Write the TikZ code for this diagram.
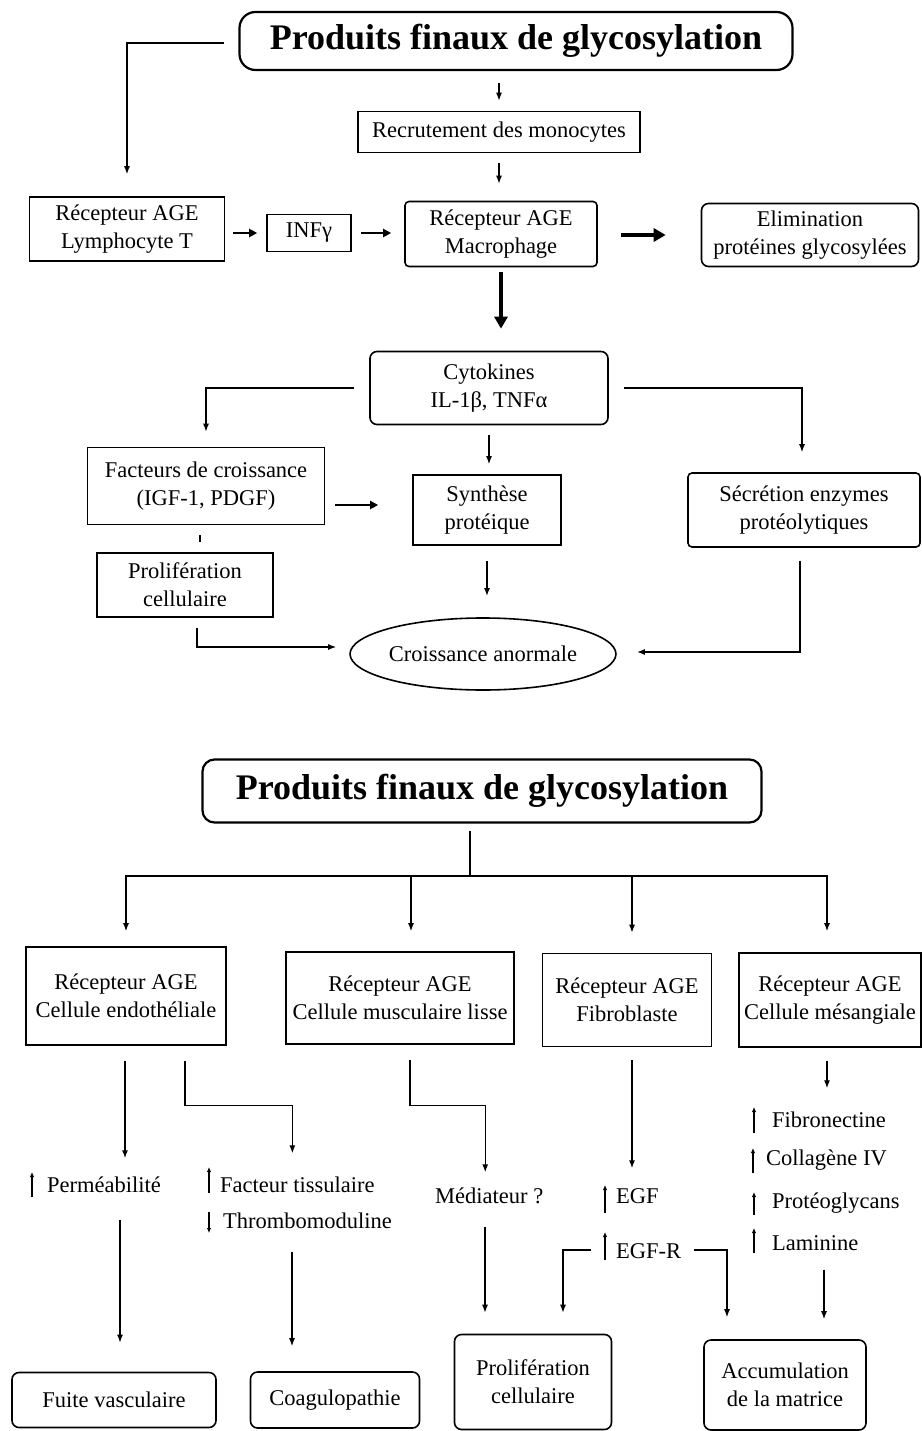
\documentclass[tikz,border=0pt]{standalone}
\usepackage{fontspec}
\setmainfont{Liberation Serif}
\usetikzlibrary{arrows.meta,shapes.geometric,calc}
\begin{document}
\begin{tikzpicture}[x=1pt,y=-1pt,
  box/.style={draw, line width=1.6pt, align=center, inner sep=0pt, font=\fontsize{22.5}{28}\selectfont},
  rbox/.style={box, rounded corners=7pt},
  titlebox/.style={draw, line width=2.2pt, rounded corners=16pt, inner sep=0pt, font=\fontsize{36}{40}\selectfont\bfseries},
  lbl/.style={anchor=west, inner sep=0pt, text height=16pt, text depth=5pt, font=\fontsize{22.5}{28}\selectfont},
  arr/.style={line width=1.3pt, -{Latex[length=8pt,width=6pt]}},
  conn/.style={line width=1.3pt},
  bigarr/.style={line width=4pt, -{Triangle[length=12pt,width=13pt]}},
  midarr/.style={line width=2.4pt, -{Triangle[length=8pt,width=8pt]}},
  mk/.style={line width=1.2pt, -{Latex[length=5pt,width=4.5pt]}}
]
\useasboundingbox (0,0) rectangle (921,1431);

% ---------------- top diagram ----------------
\node[titlebox, minimum width=553pt, minimum height=58pt] (t1) at (516,41) {Produits finaux de glycosylation};
\node[box, minimum width=282pt, minimum height=41pt] (rec) at (499,132) {Recrutement des monocytes};
\node[box, minimum width=195pt, minimum height=64pt] (lym) at (127,229) {Récepteur AGE\\Lymphocyte T};
\node[box, minimum width=84pt, minimum height=37pt] (inf) at (309,233) {INFγ};
\node[box, rounded corners=4pt, minimum width=192pt, minimum height=65pt] (mac) at (501,234) {Récepteur AGE\\Macrophage};
\node[rbox, minimum width=217pt, minimum height=63pt] (eli) at (810,235) {Elimination\\protéines glycosylées};
\node[rbox, minimum width=238pt, minimum height=73pt] (cyt) at (489,388) {Cytokines\\IL-1β, TNFα};
\node[box, minimum width=237pt, minimum height=77pt] (fac) at (206,486) {Facteurs de croissance\\(IGF-1, PDGF)};
\node[box, minimum width=148pt, minimum height=70pt] (syn) at (487,510) {Synthèse\\protéique};
\node[box, rounded corners=4pt, minimum width=232pt, minimum height=74pt] (sec) at (804,510) {Sécrétion enzymes\\protéolytiques};
\node[box, minimum width=176pt, minimum height=64pt] (pro) at (185,585) {Prolifération\\cellulaire};
\node[box, ellipse, minimum width=263pt, minimum height=72pt] (cro) at (483,654) {Croissance anormale};

\draw[arr, shorten <=14pt, shorten >=22pt] ([yshift=-2pt]t1.west) -| (lym.north);
\draw[arr, shorten <=12pt, shorten >=10pt] (rec.north |- t1.south) -- (rec.north);
\draw[arr, shorten <=10pt, shorten >=17pt] (rec.south) -- (rec.south |- mac.north);
\draw[midarr, line width=2pt, shorten <=8pt, shorten >=9pt] (lym.east |- inf.west) -- (inf.west);
\draw[midarr, line width=2pt, shorten <=9pt, shorten >=13pt] (inf.east) -- (inf.east -| mac.west);
\draw[bigarr, shorten <=23pt, shorten >=35pt] (mac.east |- eli.west) -- (eli.west);
\draw[bigarr, shorten <=5pt, shorten >=22pt] (mac.south) -- (mac.south |- cyt.north);
\draw[arr, shorten <=15pt, shorten >=15pt] (cyt.west) -| (fac.north);
\draw[arr, shorten <=15pt, shorten >=20pt] (cyt.east) -| ([xshift=-2pt]sec.north);
\draw[arr, shorten <=10pt, shorten >=10pt] (cyt.south) -- (cyt.south |- syn.north);
\draw[midarr, shorten <=10pt, shorten >=34pt] ([yshift=5pt]syn.west -| fac.east) -- ([yshift=5pt]syn.west);
\draw[conn, line width=1.6pt, shorten <=10pt, shorten >=10pt] ([xshift=-6pt]fac.south) -- ([xshift=-6pt]fac.south |- pro.north);
\draw[arr, line width=1.6pt, shorten <=15pt, shorten >=21pt] (syn.south) -- (syn.south |- cro.north);
\draw[arr, shorten <=10pt, shorten >=13pt] ([xshift=12pt]pro.south) |- ([yshift=7pt]cro.west);
\draw[arr, line width=1.6pt, shorten <=13pt, shorten >=20pt] ([xshift=-4pt]sec.south) |- ([yshift=2pt]cro.east);

% ---------------- bottom diagram ----------------
\node[titlebox, rounded corners=12pt, minimum width=559pt, minimum height=63pt] (t2) at (482,791) {Produits finaux de glycosylation};
\node[box, minimum width=200pt, minimum height=98pt] (endo) at (126,996) {Récepteur AGE\\Cellule endothéliale};
\node[box, minimum width=228pt, minimum height=92pt] (musc) at (400,998) {Récepteur AGE\\Cellule musculaire lisse};
\node[box, minimum width=169pt, minimum height=93pt] (fib) at (627,1000) {Récepteur AGE\\Fibroblaste};
\node[box, minimum width=182pt, minimum height=94pt] (mes) at (830,1000) {Récepteur AGE\\Cellule mésangiale};

\coordinate (bus) at (470,876);
\draw[conn, shorten <=7pt] ([xshift=-12pt]t2.south) -- (bus);
\draw[arr, shorten >=15pt] (bus) -| (endo.north);
\draw[arr, shorten >=20pt] (bus) -| ([xshift=11pt]musc.north);
\draw[arr, shorten >=20pt] (bus) -| ([xshift=5pt]fib.north);
\draw[arr, shorten >=21pt] (bus) -| ([xshift=-3pt]mes.north);

\node[lbl] (perm) at (47,1187) {Perméabilité};
\node[lbl] (ft) at (220,1187) {Facteur tissulaire};
\node[lbl] (thr) at (223,1223) {Thrombomoduline};
\node[lbl] (med) at (435,1198) {Médiateur ?};
\node[lbl] (egf) at (616,1198) {EGF};
\node[lbl] (egfr) at (616,1253) {EGF-R};
\node[lbl] (fn) at (772,1122) {Fibronectine};
\node[lbl] (col) at (766,1160) {Collagène IV};
\node[lbl] (prg) at (772,1203) {Protéoglycans};
\node[lbl] (lam) at (772,1245) {Laminine};

\draw[mk] ($(perm.west)+(-15,10)$) -- ($(perm.west)+(-15,-15)$);
\draw[mk] ($(ft.west)+(-11,6)$) -- ($(ft.west)+(-11,-20)$);
\draw[mk] ($(thr.west)+(-14,-11)$) -- ($(thr.west)+(-14,10)$);
\draw[mk] ($(egf.west)+(-11,15)$) -- ($(egf.west)+(-11,-13)$);
\draw[mk] ($(egfr.west)+(-11,7)$) -- ($(egfr.west)+(-11,-21)$);
\draw[mk] ($(fn.west)+(-18,11)$) -- ($(fn.west)+(-18,-15)$);
\draw[mk] ($(col.west)+(-13,13)$) -- ($(col.west)+(-13,-12)$);
\draw[mk] ($(prg.west)+(-18,12)$) -- ($(prg.west)+(-18,-11)$);
\draw[mk] ($(lam.west)+(-18,8)$) -- ($(lam.west)+(-18,-17)$);

\node[rbox, minimum width=204pt, minimum height=55pt] (fuite) at (114,1400) {Fuite vasculaire};
\node[rbox, minimum width=169pt, minimum height=56pt] (coag) at (335,1400) {Coagulopathie};
\node[rbox, minimum width=157pt, minimum height=95pt] (pc) at (533,1382) {Prolifération\\cellulaire};
\node[rbox, minimum width=162pt, minimum height=90pt] (acc) at (785,1385) {Accumulation\\de la matrice};

\draw[arr, shorten <=15pt, shorten >=18pt] ([xshift=-1pt]endo.south) -- ([xshift=-1pt]endo.south |- perm.north);
\draw[arr, shorten <=15pt, shorten >=23pt] ([xshift=59pt]endo.south) -- ++(0,60) -| ([xshift=-5pt]ft.north);
\draw[arr, shorten <=15pt, shorten >=15pt] ([xshift=10pt]musc.south) -- ++(0,61) -| ([xshift=-4pt]med.north);
\draw[arr, shorten <=13pt, shorten >=19pt] ([xshift=5pt]fib.south) -- ([xshift=5pt]fib.south |- egf.north);
\draw[arr, shorten <=13pt, shorten >=23pt] ([xshift=-3pt]mes.south) -- ([xshift=-3pt]mes.south |- fn.north);
\draw[arr, shorten >=21pt] ([xshift=-25pt,yshift=3pt]egfr.west) -| ([xshift=30pt]pc.north);
\draw[arr, shorten >=22pt] ([xshift=13pt,yshift=3pt]egfr.east) -| ([xshift=-58pt]acc.north);
\draw[arr, shorten <=22pt, shorten >=29pt] ([xshift=6pt]fuite.north |- perm.south) -- ([xshift=6pt]fuite.north);
\draw[arr, shorten <=18pt, shorten >=25pt] ([xshift=-43pt]coag.north |- thr.south) -- ([xshift=-43pt]coag.north);
\draw[arr, shorten <=18pt, shorten >=21pt] ([xshift=-48pt]pc.north |- med.south) -- ([xshift=-48pt]pc.north);
\draw[arr, shorten <=14pt, shorten >=20pt] ([xshift=39pt]acc.north |- lam.south) -- ([xshift=39pt]acc.north);
\end{tikzpicture}
\end{document}
